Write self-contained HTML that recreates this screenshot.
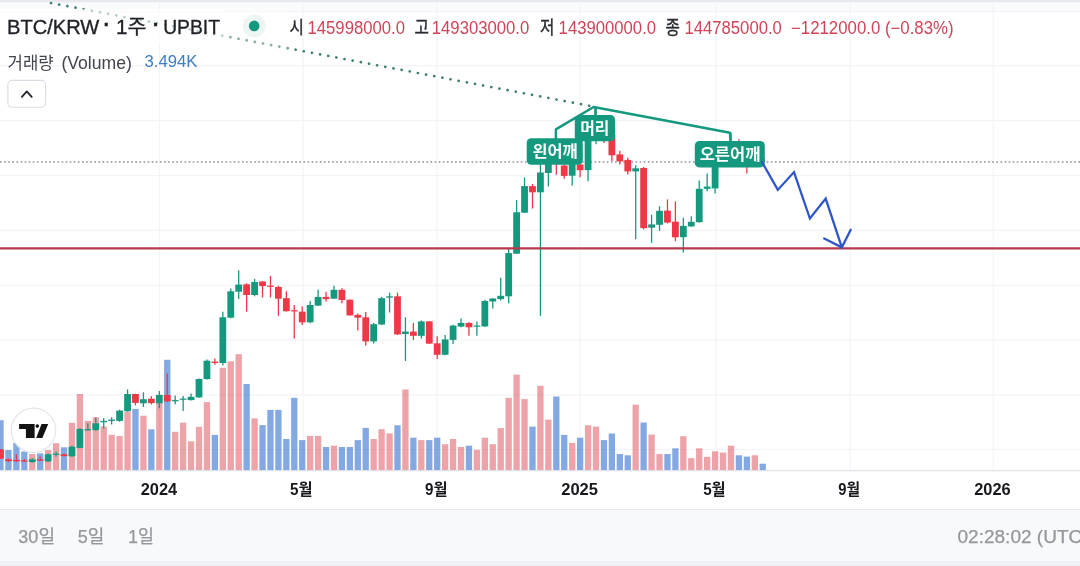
<!DOCTYPE html>
<html lang="ko"><head><meta charset="utf-8"><title>BTC/KRW 1주 UPBIT</title>
<style>html,body{margin:0;padding:0;background:#fff}body{width:1080px;height:566px;overflow:hidden}svg{display:block}text{font-family:"Liberation Sans","Noto Sans CJK KR",sans-serif}</style></head><body>
<svg width="1080" height="566" viewBox="0 0 1080 566">
<rect x="0" y="0" width="1080" height="566" fill="#ffffff"/>
<rect x="0" y="0" width="1080" height="11.5" fill="#fafbfc"/>
<rect x="0" y="0" width="1080" height="2.3" fill="#e7e9ee"/>
<g stroke="#f3f4f7" stroke-width="1.2" fill="none">
<line x1="0" y1="11.7" x2="1080" y2="11.7"/>
<line x1="0" y1="65.7" x2="1080" y2="65.7"/>
<line x1="0" y1="120.6" x2="1080" y2="120.6"/>
<line x1="0" y1="175.5" x2="1080" y2="175.5"/>
<line x1="0" y1="230.4" x2="1080" y2="230.4"/>
<line x1="0" y1="285.3" x2="1080" y2="285.3"/>
<line x1="0" y1="340.2" x2="1080" y2="340.2"/>
<line x1="0" y1="394.8" x2="1080" y2="394.8"/>
<line x1="0" y1="449.5" x2="1080" y2="449.5"/>
<line x1="159.5" y1="2.2" x2="159.5" y2="470.5"/>
<line x1="303" y1="2.2" x2="303" y2="470.5"/>
<line x1="437" y1="2.2" x2="437" y2="470.5"/>
<line x1="580" y1="2.2" x2="580" y2="470.5"/>
<line x1="716" y1="2.2" x2="716" y2="470.5"/>
<line x1="850" y1="2.2" x2="850" y2="470.5"/>
<line x1="993.3" y1="2.2" x2="993.3" y2="470.5"/>
</g>
<g>
<rect x="-2.65" y="420.2" width="6.3" height="50.0" fill="#0953c5" fill-opacity="0.5"/>
<rect x="5.29" y="450.0" width="6.3" height="20.2" fill="#0953c5" fill-opacity="0.5"/>
<rect x="13.23" y="443.0" width="6.3" height="27.2" fill="#0953c5" fill-opacity="0.5"/>
<rect x="21.17" y="451.5" width="6.3" height="18.7" fill="#0953c5" fill-opacity="0.5"/>
<rect x="29.11" y="454.0" width="6.3" height="16.2" fill="#dd4753" fill-opacity="0.5"/>
<rect x="37.05" y="453.4" width="6.3" height="16.8" fill="#0953c5" fill-opacity="0.5"/>
<rect x="44.99" y="450.0" width="6.3" height="20.2" fill="#dd4753" fill-opacity="0.5"/>
<rect x="52.93" y="443.2" width="6.3" height="27.0" fill="#dd4753" fill-opacity="0.5"/>
<rect x="60.87" y="447.3" width="6.3" height="22.9" fill="#0953c5" fill-opacity="0.5"/>
<rect x="68.81" y="422.8" width="6.3" height="47.4" fill="#dd4753" fill-opacity="0.5"/>
<rect x="76.75" y="394.0" width="6.3" height="76.2" fill="#dd4753" fill-opacity="0.5"/>
<rect x="84.69" y="421.0" width="6.3" height="49.2" fill="#dd4753" fill-opacity="0.5"/>
<rect x="92.63" y="417.2" width="6.3" height="53.0" fill="#dd4753" fill-opacity="0.5"/>
<rect x="100.57" y="426.5" width="6.3" height="43.7" fill="#dd4753" fill-opacity="0.5"/>
<rect x="108.51" y="434.8" width="6.3" height="35.4" fill="#dd4753" fill-opacity="0.5"/>
<rect x="116.45" y="436.1" width="6.3" height="34.1" fill="#dd4753" fill-opacity="0.5"/>
<rect x="124.39" y="411.6" width="6.3" height="58.6" fill="#dd4753" fill-opacity="0.5"/>
<rect x="132.33" y="408.9" width="6.3" height="61.3" fill="#0953c5" fill-opacity="0.5"/>
<rect x="140.27" y="415.7" width="6.3" height="54.5" fill="#dd4753" fill-opacity="0.5"/>
<rect x="148.21" y="429.3" width="6.3" height="40.9" fill="#0953c5" fill-opacity="0.5"/>
<rect x="156.15" y="403.1" width="6.3" height="67.1" fill="#dd4753" fill-opacity="0.5"/>
<rect x="164.09" y="359.8" width="6.3" height="110.4" fill="#0953c5" fill-opacity="0.5"/>
<rect x="172.03" y="431.8" width="6.3" height="38.4" fill="#dd4753" fill-opacity="0.5"/>
<rect x="179.97" y="422.6" width="6.3" height="47.6" fill="#dd4753" fill-opacity="0.5"/>
<rect x="187.91" y="441.3" width="6.3" height="28.9" fill="#dd4753" fill-opacity="0.5"/>
<rect x="195.85" y="426.8" width="6.3" height="43.4" fill="#dd4753" fill-opacity="0.5"/>
<rect x="203.79" y="402.1" width="6.3" height="68.1" fill="#dd4753" fill-opacity="0.5"/>
<rect x="211.73" y="434.9" width="6.3" height="35.3" fill="#0953c5" fill-opacity="0.5"/>
<rect x="219.67" y="367.8" width="6.3" height="102.4" fill="#dd4753" fill-opacity="0.5"/>
<rect x="227.61" y="361.3" width="6.3" height="108.9" fill="#dd4753" fill-opacity="0.5"/>
<rect x="235.55" y="354.2" width="6.3" height="116.0" fill="#dd4753" fill-opacity="0.5"/>
<rect x="243.49" y="384.0" width="6.3" height="86.2" fill="#0953c5" fill-opacity="0.5"/>
<rect x="251.43" y="418.4" width="6.3" height="51.8" fill="#dd4753" fill-opacity="0.5"/>
<rect x="259.37" y="425.1" width="6.3" height="45.1" fill="#0953c5" fill-opacity="0.5"/>
<rect x="267.31" y="409.9" width="6.3" height="60.3" fill="#0953c5" fill-opacity="0.5"/>
<rect x="275.25" y="409.9" width="6.3" height="60.3" fill="#0953c5" fill-opacity="0.5"/>
<rect x="283.19" y="439.0" width="6.3" height="31.2" fill="#0953c5" fill-opacity="0.5"/>
<rect x="291.13" y="397.8" width="6.3" height="72.4" fill="#0953c5" fill-opacity="0.5"/>
<rect x="299.07" y="440.1" width="6.3" height="30.1" fill="#0953c5" fill-opacity="0.5"/>
<rect x="307.01" y="435.9" width="6.3" height="34.3" fill="#dd4753" fill-opacity="0.5"/>
<rect x="314.95" y="435.9" width="6.3" height="34.3" fill="#dd4753" fill-opacity="0.5"/>
<rect x="322.89" y="447.0" width="6.3" height="23.2" fill="#0953c5" fill-opacity="0.5"/>
<rect x="330.83" y="445.7" width="6.3" height="24.5" fill="#dd4753" fill-opacity="0.5"/>
<rect x="338.77" y="447.0" width="6.3" height="23.2" fill="#0953c5" fill-opacity="0.5"/>
<rect x="346.71" y="447.0" width="6.3" height="23.2" fill="#0953c5" fill-opacity="0.5"/>
<rect x="354.65" y="440.1" width="6.3" height="30.1" fill="#0953c5" fill-opacity="0.5"/>
<rect x="362.59" y="427.9" width="6.3" height="42.3" fill="#0953c5" fill-opacity="0.5"/>
<rect x="370.53" y="439.0" width="6.3" height="31.2" fill="#dd4753" fill-opacity="0.5"/>
<rect x="378.47" y="429.2" width="6.3" height="41.0" fill="#dd4753" fill-opacity="0.5"/>
<rect x="386.41" y="433.4" width="6.3" height="36.8" fill="#dd4753" fill-opacity="0.5"/>
<rect x="394.35" y="425.3" width="6.3" height="44.9" fill="#0953c5" fill-opacity="0.5"/>
<rect x="402.29" y="389.5" width="6.3" height="80.7" fill="#dd4753" fill-opacity="0.5"/>
<rect x="410.23" y="437.7" width="6.3" height="32.5" fill="#0953c5" fill-opacity="0.5"/>
<rect x="418.17" y="440.1" width="6.3" height="30.1" fill="#dd4753" fill-opacity="0.5"/>
<rect x="426.11" y="440.1" width="6.3" height="30.1" fill="#0953c5" fill-opacity="0.5"/>
<rect x="434.05" y="437.7" width="6.3" height="32.5" fill="#0953c5" fill-opacity="0.5"/>
<rect x="441.99" y="444.2" width="6.3" height="26.0" fill="#dd4753" fill-opacity="0.5"/>
<rect x="449.93" y="439.0" width="6.3" height="31.2" fill="#dd4753" fill-opacity="0.5"/>
<rect x="457.87" y="447.0" width="6.3" height="23.2" fill="#dd4753" fill-opacity="0.5"/>
<rect x="465.81" y="445.7" width="6.3" height="24.5" fill="#0953c5" fill-opacity="0.5"/>
<rect x="473.75" y="449.8" width="6.3" height="20.4" fill="#dd4753" fill-opacity="0.5"/>
<rect x="481.69" y="437.7" width="6.3" height="32.5" fill="#dd4753" fill-opacity="0.5"/>
<rect x="489.63" y="444.2" width="6.3" height="26.0" fill="#dd4753" fill-opacity="0.5"/>
<rect x="497.57" y="428.1" width="6.3" height="42.1" fill="#dd4753" fill-opacity="0.5"/>
<rect x="505.51" y="397.8" width="6.3" height="72.4" fill="#dd4753" fill-opacity="0.5"/>
<rect x="513.45" y="374.6" width="6.3" height="95.6" fill="#dd4753" fill-opacity="0.5"/>
<rect x="521.39" y="399.1" width="6.3" height="71.1" fill="#dd4753" fill-opacity="0.5"/>
<rect x="529.33" y="426.6" width="6.3" height="43.6" fill="#0953c5" fill-opacity="0.5"/>
<rect x="537.27" y="385.8" width="6.3" height="84.4" fill="#dd4753" fill-opacity="0.5"/>
<rect x="545.21" y="419.7" width="6.3" height="50.5" fill="#dd4753" fill-opacity="0.5"/>
<rect x="553.15" y="396.5" width="6.3" height="73.7" fill="#0953c5" fill-opacity="0.5"/>
<rect x="561.09" y="434.9" width="6.3" height="35.3" fill="#0953c5" fill-opacity="0.5"/>
<rect x="569.03" y="442.9" width="6.3" height="27.3" fill="#dd4753" fill-opacity="0.5"/>
<rect x="576.97" y="437.7" width="6.3" height="32.5" fill="#0953c5" fill-opacity="0.5"/>
<rect x="584.91" y="425.3" width="6.3" height="44.9" fill="#dd4753" fill-opacity="0.5"/>
<rect x="592.85" y="426.6" width="6.3" height="43.6" fill="#dd4753" fill-opacity="0.5"/>
<rect x="600.79" y="440.1" width="6.3" height="30.1" fill="#0953c5" fill-opacity="0.5"/>
<rect x="608.73" y="433.5" width="6.3" height="36.7" fill="#0953c5" fill-opacity="0.5"/>
<rect x="616.67" y="454.0" width="6.3" height="16.2" fill="#0953c5" fill-opacity="0.5"/>
<rect x="624.61" y="455.3" width="6.3" height="14.9" fill="#0953c5" fill-opacity="0.5"/>
<rect x="632.55" y="404.7" width="6.3" height="65.5" fill="#dd4753" fill-opacity="0.5"/>
<rect x="640.49" y="422.5" width="6.3" height="47.7" fill="#0953c5" fill-opacity="0.5"/>
<rect x="648.43" y="434.6" width="6.3" height="35.6" fill="#dd4753" fill-opacity="0.5"/>
<rect x="656.37" y="454.0" width="6.3" height="16.2" fill="#dd4753" fill-opacity="0.5"/>
<rect x="664.31" y="454.0" width="6.3" height="16.2" fill="#0953c5" fill-opacity="0.5"/>
<rect x="672.25" y="448.3" width="6.3" height="21.9" fill="#0953c5" fill-opacity="0.5"/>
<rect x="680.19" y="436.2" width="6.3" height="34.0" fill="#dd4753" fill-opacity="0.5"/>
<rect x="688.13" y="458.1" width="6.3" height="12.1" fill="#dd4753" fill-opacity="0.5"/>
<rect x="696.07" y="448.3" width="6.3" height="21.9" fill="#dd4753" fill-opacity="0.5"/>
<rect x="704.01" y="456.8" width="6.3" height="13.4" fill="#dd4753" fill-opacity="0.5"/>
<rect x="711.95" y="451.3" width="6.3" height="18.9" fill="#dd4753" fill-opacity="0.5"/>
<rect x="719.89" y="452.6" width="6.3" height="17.6" fill="#dd4753" fill-opacity="0.5"/>
<rect x="727.83" y="445.7" width="6.3" height="24.5" fill="#dd4753" fill-opacity="0.5"/>
<rect x="735.77" y="455.3" width="6.3" height="14.9" fill="#0953c5" fill-opacity="0.5"/>
<rect x="743.71" y="456.6" width="6.3" height="13.6" fill="#0953c5" fill-opacity="0.5"/>
<rect x="751.65" y="455.3" width="6.3" height="14.9" fill="#dd4753" fill-opacity="0.5"/>
<rect x="759.59" y="463.7" width="6.3" height="6.5" fill="#0953c5" fill-opacity="0.5"/>
</g>
<line x1="51" y1="3" x2="593.7" y2="106.6" stroke="#437f73" stroke-width="2.7" stroke-dasharray="0.1 8.2" stroke-linecap="round" fill="none"/>
<line x1="0" y1="162" x2="1080" y2="162" stroke="#98949a" stroke-width="1.7" stroke-dasharray="1.7 2.4"/>
<g>
<line x1="0.50" y1="449.0" x2="0.50" y2="459.0" stroke="#ee3848" stroke-width="1.3"/>
<rect x="-2.90" y="449.4" width="6.8" height="9.2" fill="#ee3848"/>
<line x1="8.44" y1="458.5" x2="8.44" y2="462.0" stroke="#ee3848" stroke-width="1.3"/>
<rect x="5.04" y="459.3" width="6.8" height="1.8" fill="#ee3848"/>
<line x1="16.38" y1="454.3" x2="16.38" y2="462.0" stroke="#ee3848" stroke-width="1.3"/>
<rect x="12.98" y="460.0" width="6.8" height="1.2" fill="#ee3848"/>
<line x1="24.32" y1="459.0" x2="24.32" y2="462.0" stroke="#ee3848" stroke-width="1.3"/>
<rect x="20.92" y="460.4" width="6.8" height="1.2" fill="#ee3848"/>
<line x1="32.26" y1="458.3" x2="32.26" y2="462.8" stroke="#14997f" stroke-width="1.3"/>
<rect x="28.86" y="459.3" width="6.8" height="2.8" fill="#14997f"/>
<line x1="40.20" y1="456.5" x2="40.20" y2="461.0" stroke="#ee3848" stroke-width="1.3"/>
<rect x="36.80" y="459.3" width="6.8" height="1.4" fill="#ee3848"/>
<line x1="48.14" y1="453.6" x2="48.14" y2="462.1" stroke="#14997f" stroke-width="1.3"/>
<rect x="44.74" y="454.3" width="6.8" height="7.1" fill="#14997f"/>
<line x1="56.08" y1="451.5" x2="56.08" y2="456.5" stroke="#14997f" stroke-width="1.3"/>
<rect x="52.68" y="453.6" width="6.8" height="1.2" fill="#14997f"/>
<line x1="64.02" y1="453.6" x2="64.02" y2="456.7" stroke="#ee3848" stroke-width="1.3"/>
<rect x="60.62" y="454.3" width="6.8" height="1.7" fill="#ee3848"/>
<line x1="71.96" y1="445.6" x2="71.96" y2="456.8" stroke="#14997f" stroke-width="1.3"/>
<rect x="68.56" y="446.8" width="6.8" height="9.5" fill="#14997f"/>
<line x1="79.90" y1="428.0" x2="79.90" y2="448.3" stroke="#14997f" stroke-width="1.3"/>
<rect x="76.50" y="429.0" width="6.8" height="18.9" fill="#14997f"/>
<line x1="87.84" y1="423.3" x2="87.84" y2="430.7" stroke="#14997f" stroke-width="1.3"/>
<rect x="84.44" y="429.2" width="6.8" height="1.2" fill="#14997f"/>
<line x1="95.78" y1="417.5" x2="95.78" y2="430.7" stroke="#14997f" stroke-width="1.3"/>
<rect x="92.38" y="423.3" width="6.8" height="6.8" fill="#14997f"/>
<line x1="103.72" y1="418.1" x2="103.72" y2="428.6" stroke="#14997f" stroke-width="1.3"/>
<rect x="100.32" y="420.9" width="6.8" height="1.3" fill="#14997f"/>
<line x1="111.66" y1="417.2" x2="111.66" y2="424.6" stroke="#14997f" stroke-width="1.3"/>
<rect x="108.26" y="419.6" width="6.8" height="1.3" fill="#14997f"/>
<line x1="119.60" y1="409.7" x2="119.60" y2="421.8" stroke="#14997f" stroke-width="1.3"/>
<rect x="116.20" y="410.6" width="6.8" height="10.3" fill="#14997f"/>
<line x1="127.54" y1="389.4" x2="127.54" y2="411.6" stroke="#14997f" stroke-width="1.3"/>
<rect x="124.14" y="394.0" width="6.8" height="17.2" fill="#14997f"/>
<line x1="135.48" y1="393.7" x2="135.48" y2="405.5" stroke="#ee3848" stroke-width="1.3"/>
<rect x="132.08" y="394.0" width="6.8" height="8.9" fill="#ee3848"/>
<line x1="143.42" y1="392.3" x2="143.42" y2="407.0" stroke="#14997f" stroke-width="1.3"/>
<rect x="140.02" y="399.2" width="6.8" height="4.1" fill="#14997f"/>
<line x1="151.36" y1="396.2" x2="151.36" y2="404.4" stroke="#ee3848" stroke-width="1.3"/>
<rect x="147.96" y="398.7" width="6.8" height="4.4" fill="#ee3848"/>
<line x1="159.30" y1="390.9" x2="159.30" y2="408.2" stroke="#14997f" stroke-width="1.3"/>
<rect x="155.90" y="394.9" width="6.8" height="8.4" fill="#14997f"/>
<line x1="167.24" y1="373.6" x2="167.24" y2="401.8" stroke="#ee3848" stroke-width="1.3"/>
<rect x="163.84" y="395.0" width="6.8" height="6.4" fill="#ee3848"/>
<line x1="175.18" y1="395.6" x2="175.18" y2="404.2" stroke="#14997f" stroke-width="1.3"/>
<rect x="171.78" y="400.1" width="6.8" height="1.2" fill="#14997f"/>
<line x1="183.12" y1="396.1" x2="183.12" y2="411.0" stroke="#14997f" stroke-width="1.3"/>
<rect x="179.72" y="398.6" width="6.8" height="1.2" fill="#14997f"/>
<line x1="191.06" y1="393.6" x2="191.06" y2="400.5" stroke="#14997f" stroke-width="1.3"/>
<rect x="187.66" y="396.8" width="6.8" height="3.3" fill="#14997f"/>
<line x1="199.00" y1="378.4" x2="199.00" y2="397.8" stroke="#14997f" stroke-width="1.3"/>
<rect x="195.60" y="379.0" width="6.8" height="18.4" fill="#14997f"/>
<line x1="206.94" y1="359.5" x2="206.94" y2="379.5" stroke="#14997f" stroke-width="1.3"/>
<rect x="203.54" y="360.7" width="6.8" height="18.4" fill="#14997f"/>
<line x1="214.88" y1="358.4" x2="214.88" y2="364.8" stroke="#ee3848" stroke-width="1.3"/>
<rect x="211.48" y="361.6" width="6.8" height="1.4" fill="#ee3848"/>
<line x1="222.82" y1="311.7" x2="222.82" y2="365.5" stroke="#14997f" stroke-width="1.3"/>
<rect x="219.42" y="317.3" width="6.8" height="45.7" fill="#14997f"/>
<line x1="230.76" y1="288.5" x2="230.76" y2="318.2" stroke="#14997f" stroke-width="1.3"/>
<rect x="227.36" y="291.3" width="6.8" height="26.4" fill="#14997f"/>
<line x1="238.70" y1="270.3" x2="238.70" y2="299.1" stroke="#14997f" stroke-width="1.3"/>
<rect x="235.30" y="284.6" width="6.8" height="7.1" fill="#14997f"/>
<line x1="246.64" y1="283.3" x2="246.64" y2="311.7" stroke="#ee3848" stroke-width="1.3"/>
<rect x="243.24" y="284.3" width="6.8" height="10.7" fill="#ee3848"/>
<line x1="254.58" y1="279.0" x2="254.58" y2="296.3" stroke="#14997f" stroke-width="1.3"/>
<rect x="251.18" y="282.0" width="6.8" height="13.0" fill="#14997f"/>
<line x1="262.52" y1="281.2" x2="262.52" y2="297.6" stroke="#ee3848" stroke-width="1.3"/>
<rect x="259.12" y="281.5" width="6.8" height="4.6" fill="#ee3848"/>
<line x1="270.46" y1="275.9" x2="270.46" y2="297.6" stroke="#ee3848" stroke-width="1.3"/>
<rect x="267.06" y="285.6" width="6.8" height="1.2" fill="#ee3848"/>
<line x1="278.40" y1="285.7" x2="278.40" y2="315.8" stroke="#ee3848" stroke-width="1.3"/>
<rect x="275.00" y="287.0" width="6.8" height="11.7" fill="#ee3848"/>
<line x1="286.34" y1="291.3" x2="286.34" y2="311.7" stroke="#ee3848" stroke-width="1.3"/>
<rect x="282.94" y="298.2" width="6.8" height="13.0" fill="#ee3848"/>
<line x1="294.28" y1="305.0" x2="294.28" y2="338.6" stroke="#ee3848" stroke-width="1.3"/>
<rect x="290.88" y="310.2" width="6.8" height="1.2" fill="#ee3848"/>
<line x1="302.22" y1="306.5" x2="302.22" y2="325.0" stroke="#ee3848" stroke-width="1.3"/>
<rect x="298.82" y="311.7" width="6.8" height="10.6" fill="#ee3848"/>
<line x1="310.16" y1="301.0" x2="310.16" y2="323.2" stroke="#14997f" stroke-width="1.3"/>
<rect x="306.76" y="305.0" width="6.8" height="17.3" fill="#14997f"/>
<line x1="318.10" y1="289.8" x2="318.10" y2="306.0" stroke="#14997f" stroke-width="1.3"/>
<rect x="314.70" y="296.9" width="6.8" height="8.7" fill="#14997f"/>
<line x1="326.04" y1="291.7" x2="326.04" y2="301.5" stroke="#ee3848" stroke-width="1.3"/>
<rect x="322.64" y="296.9" width="6.8" height="2.2" fill="#ee3848"/>
<line x1="333.98" y1="285.7" x2="333.98" y2="299.0" stroke="#14997f" stroke-width="1.3"/>
<rect x="330.58" y="289.8" width="6.8" height="8.9" fill="#14997f"/>
<line x1="341.92" y1="288.3" x2="341.92" y2="303.2" stroke="#ee3848" stroke-width="1.3"/>
<rect x="338.52" y="289.8" width="6.8" height="10.2" fill="#ee3848"/>
<line x1="349.86" y1="299.4" x2="349.86" y2="315.8" stroke="#ee3848" stroke-width="1.3"/>
<rect x="346.46" y="299.7" width="6.8" height="15.7" fill="#ee3848"/>
<line x1="357.80" y1="313.6" x2="357.80" y2="330.6" stroke="#ee3848" stroke-width="1.3"/>
<rect x="354.40" y="314.9" width="6.8" height="2.8" fill="#ee3848"/>
<line x1="365.74" y1="312.1" x2="365.74" y2="345.5" stroke="#ee3848" stroke-width="1.3"/>
<rect x="362.34" y="317.3" width="6.8" height="24.1" fill="#ee3848"/>
<line x1="373.68" y1="322.9" x2="373.68" y2="343.6" stroke="#14997f" stroke-width="1.3"/>
<rect x="370.28" y="324.2" width="6.8" height="17.2" fill="#14997f"/>
<line x1="381.62" y1="296.9" x2="381.62" y2="325.1" stroke="#14997f" stroke-width="1.3"/>
<rect x="378.22" y="298.2" width="6.8" height="26.3" fill="#14997f"/>
<line x1="389.56" y1="292.6" x2="389.56" y2="312.5" stroke="#14997f" stroke-width="1.3"/>
<rect x="386.16" y="296.3" width="6.8" height="1.3" fill="#14997f"/>
<line x1="397.50" y1="292.6" x2="397.50" y2="334.9" stroke="#ee3848" stroke-width="1.3"/>
<rect x="394.10" y="296.3" width="6.8" height="38.1" fill="#ee3848"/>
<line x1="405.44" y1="317.3" x2="405.44" y2="360.9" stroke="#14997f" stroke-width="1.3"/>
<rect x="402.04" y="331.6" width="6.8" height="2.4" fill="#14997f"/>
<line x1="413.38" y1="322.9" x2="413.38" y2="339.9" stroke="#ee3848" stroke-width="1.3"/>
<rect x="409.98" y="331.6" width="6.8" height="4.2" fill="#ee3848"/>
<line x1="421.32" y1="320.4" x2="421.32" y2="338.6" stroke="#14997f" stroke-width="1.3"/>
<rect x="417.92" y="321.4" width="6.8" height="14.4" fill="#14997f"/>
<line x1="429.26" y1="321.0" x2="429.26" y2="344.0" stroke="#ee3848" stroke-width="1.3"/>
<rect x="425.86" y="321.4" width="6.8" height="22.2" fill="#ee3848"/>
<line x1="437.20" y1="336.2" x2="437.20" y2="359.0" stroke="#ee3848" stroke-width="1.3"/>
<rect x="433.80" y="343.3" width="6.8" height="11.5" fill="#ee3848"/>
<line x1="445.14" y1="334.9" x2="445.14" y2="355.3" stroke="#14997f" stroke-width="1.3"/>
<rect x="441.74" y="339.4" width="6.8" height="15.4" fill="#14997f"/>
<line x1="453.08" y1="324.7" x2="453.08" y2="344.0" stroke="#14997f" stroke-width="1.3"/>
<rect x="449.68" y="325.6" width="6.8" height="14.3" fill="#14997f"/>
<line x1="461.02" y1="318.6" x2="461.02" y2="327.3" stroke="#14997f" stroke-width="1.3"/>
<rect x="457.62" y="322.9" width="6.8" height="3.7" fill="#14997f"/>
<line x1="468.96" y1="322.3" x2="468.96" y2="335.7" stroke="#ee3848" stroke-width="1.3"/>
<rect x="465.56" y="322.9" width="6.8" height="4.4" fill="#ee3848"/>
<line x1="476.90" y1="321.4" x2="476.90" y2="335.7" stroke="#14997f" stroke-width="1.3"/>
<rect x="473.50" y="325.5" width="6.8" height="1.2" fill="#14997f"/>
<line x1="484.84" y1="299.7" x2="484.84" y2="326.9" stroke="#14997f" stroke-width="1.3"/>
<rect x="481.44" y="301.0" width="6.8" height="25.4" fill="#14997f"/>
<line x1="492.78" y1="298.2" x2="492.78" y2="308.4" stroke="#14997f" stroke-width="1.3"/>
<rect x="489.38" y="298.5" width="6.8" height="3.0" fill="#14997f"/>
<line x1="500.72" y1="277.8" x2="500.72" y2="300.6" stroke="#14997f" stroke-width="1.3"/>
<rect x="497.32" y="295.8" width="6.8" height="3.3" fill="#14997f"/>
<line x1="508.66" y1="248.5" x2="508.66" y2="303.2" stroke="#14997f" stroke-width="1.3"/>
<rect x="505.26" y="253.1" width="6.8" height="43.2" fill="#14997f"/>
<line x1="516.60" y1="199.9" x2="516.60" y2="254.0" stroke="#14997f" stroke-width="1.3"/>
<rect x="513.20" y="212.3" width="6.8" height="41.4" fill="#14997f"/>
<line x1="524.54" y1="177.6" x2="524.54" y2="213.0" stroke="#14997f" stroke-width="1.3"/>
<rect x="521.14" y="186.1" width="6.8" height="26.6" fill="#14997f"/>
<line x1="532.48" y1="184.0" x2="532.48" y2="208.6" stroke="#ee3848" stroke-width="1.3"/>
<rect x="529.08" y="186.1" width="6.8" height="6.2" fill="#ee3848"/>
<line x1="540.42" y1="162.0" x2="540.42" y2="315.8" stroke="#14997f" stroke-width="1.3"/>
<rect x="537.02" y="172.5" width="6.8" height="19.8" fill="#14997f"/>
<line x1="548.36" y1="160.0" x2="548.36" y2="186.5" stroke="#14997f" stroke-width="1.3"/>
<rect x="544.96" y="163.0" width="6.8" height="10.0" fill="#14997f"/>
<line x1="556.30" y1="131.0" x2="556.30" y2="174.8" stroke="#ee3848" stroke-width="1.3"/>
<rect x="552.90" y="162.5" width="6.8" height="1.5" fill="#ee3848"/>
<line x1="564.24" y1="160.0" x2="564.24" y2="178.7" stroke="#ee3848" stroke-width="1.3"/>
<rect x="560.84" y="165.5" width="6.8" height="10.4" fill="#ee3848"/>
<line x1="572.18" y1="155.0" x2="572.18" y2="185.6" stroke="#14997f" stroke-width="1.3"/>
<rect x="568.78" y="160.0" width="6.8" height="15.7" fill="#14997f"/>
<line x1="580.12" y1="164.4" x2="580.12" y2="177.3" stroke="#ee3848" stroke-width="1.3"/>
<rect x="576.72" y="164.4" width="6.8" height="5.8" fill="#ee3848"/>
<line x1="588.06" y1="135.0" x2="588.06" y2="181.3" stroke="#14997f" stroke-width="1.3"/>
<rect x="584.66" y="140.0" width="6.8" height="30.1" fill="#14997f"/>
<line x1="596.00" y1="108.0" x2="596.00" y2="144.2" stroke="#14997f" stroke-width="1.3"/>
<rect x="592.60" y="128.0" width="6.8" height="13.0" fill="#14997f"/>
<line x1="603.94" y1="125.0" x2="603.94" y2="142.9" stroke="#ee3848" stroke-width="1.3"/>
<rect x="600.54" y="130.0" width="6.8" height="10.0" fill="#ee3848"/>
<line x1="611.88" y1="130.0" x2="611.88" y2="160.9" stroke="#ee3848" stroke-width="1.3"/>
<rect x="608.48" y="135.0" width="6.8" height="20.3" fill="#ee3848"/>
<line x1="619.82" y1="150.7" x2="619.82" y2="164.6" stroke="#ee3848" stroke-width="1.3"/>
<rect x="616.42" y="154.4" width="6.8" height="7.0" fill="#ee3848"/>
<line x1="627.76" y1="157.7" x2="627.76" y2="174.4" stroke="#ee3848" stroke-width="1.3"/>
<rect x="624.36" y="159.9" width="6.8" height="11.5" fill="#ee3848"/>
<line x1="635.70" y1="165.2" x2="635.70" y2="239.2" stroke="#14997f" stroke-width="1.3"/>
<rect x="632.30" y="168.3" width="6.8" height="3.1" fill="#14997f"/>
<line x1="643.64" y1="167.0" x2="643.64" y2="229.4" stroke="#ee3848" stroke-width="1.3"/>
<rect x="640.24" y="168.0" width="6.8" height="60.1" fill="#ee3848"/>
<line x1="651.58" y1="214.7" x2="651.58" y2="242.9" stroke="#14997f" stroke-width="1.3"/>
<rect x="648.18" y="224.4" width="6.8" height="3.3" fill="#14997f"/>
<line x1="659.52" y1="206.2" x2="659.52" y2="230.9" stroke="#14997f" stroke-width="1.3"/>
<rect x="656.12" y="210.8" width="6.8" height="14.0" fill="#14997f"/>
<line x1="667.46" y1="199.4" x2="667.46" y2="223.5" stroke="#ee3848" stroke-width="1.3"/>
<rect x="664.06" y="210.6" width="6.8" height="12.0" fill="#ee3848"/>
<line x1="675.40" y1="201.3" x2="675.40" y2="241.2" stroke="#ee3848" stroke-width="1.3"/>
<rect x="672.00" y="221.7" width="6.8" height="15.6" fill="#ee3848"/>
<line x1="683.34" y1="217.7" x2="683.34" y2="252.4" stroke="#14997f" stroke-width="1.3"/>
<rect x="679.94" y="225.9" width="6.8" height="11.3" fill="#14997f"/>
<line x1="691.28" y1="216.2" x2="691.28" y2="226.8" stroke="#14997f" stroke-width="1.3"/>
<rect x="687.88" y="221.8" width="6.8" height="4.6" fill="#14997f"/>
<line x1="699.22" y1="180.6" x2="699.22" y2="222.5" stroke="#14997f" stroke-width="1.3"/>
<rect x="695.82" y="188.8" width="6.8" height="33.4" fill="#14997f"/>
<line x1="707.16" y1="173.6" x2="707.16" y2="191.2" stroke="#14997f" stroke-width="1.3"/>
<rect x="703.76" y="186.6" width="6.8" height="2.2" fill="#14997f"/>
<line x1="715.10" y1="158.0" x2="715.10" y2="193.6" stroke="#14997f" stroke-width="1.3"/>
<rect x="711.70" y="161.4" width="6.8" height="27.0" fill="#14997f"/>
<line x1="723.04" y1="148.0" x2="723.04" y2="165.0" stroke="#14997f" stroke-width="1.3"/>
<rect x="719.64" y="152.5" width="6.8" height="8.9" fill="#14997f"/>
<line x1="730.98" y1="132.5" x2="730.98" y2="155.0" stroke="#14997f" stroke-width="1.3"/>
<rect x="727.58" y="142.0" width="6.8" height="10.5" fill="#14997f"/>
<line x1="738.92" y1="139.2" x2="738.92" y2="160.0" stroke="#ee3848" stroke-width="1.3"/>
<rect x="735.52" y="142.0" width="6.8" height="15.0" fill="#ee3848"/>
<line x1="746.86" y1="150.0" x2="746.86" y2="173.6" stroke="#ee3848" stroke-width="1.3"/>
<rect x="743.46" y="157.0" width="6.8" height="1.5" fill="#ee3848"/>
<line x1="754.80" y1="145.0" x2="754.80" y2="163.0" stroke="#14997f" stroke-width="1.3"/>
<rect x="751.40" y="157.0" width="6.8" height="1.4" fill="#14997f"/>
<line x1="761.54" y1="148.6" x2="761.54" y2="164.6" stroke="#ee3848" stroke-width="1.3"/>
<rect x="758.14" y="158.4" width="6.8" height="3.6" fill="#ee3848"/>
</g>
<line x1="0" y1="248.4" x2="1080" y2="248.4" stroke="#b63a4c" stroke-width="2.4"/>
<g stroke="#14997f" stroke-width="2.5" fill="none" stroke-linejoin="round" stroke-linecap="round">
<polyline points="555.9,139 555.9,129.4 593.6,107 730,132.8 730.6,142"/>
<line x1="595.4" y1="108" x2="595.4" y2="116"/>
</g>
<rect x="526.7" y="138.2" width="56.1" height="26.6" rx="4.5" ry="4.5" fill="#14997f"/>
<text x="555.0" y="157.2" font-size="15.6" font-weight="700" fill="#ffffff" text-anchor="middle" textLength="45.2" lengthAdjust="spacingAndGlyphs">왼어깨</text>
<rect x="574.8" y="115.1" width="40.3" height="26.1" rx="4.5" ry="4.5" fill="#14997f"/>
<text x="594.8" y="134.2" font-size="15.6" font-weight="700" fill="#ffffff" text-anchor="middle" textLength="29.2" lengthAdjust="spacingAndGlyphs">머리</text>
<rect x="694.8" y="140.9" width="70.0" height="26.5" rx="4.5" ry="4.5" fill="#14997f"/>
<text x="730.0" y="160.1" font-size="15.6" font-weight="700" fill="#ffffff" text-anchor="middle" textLength="60.6" lengthAdjust="spacingAndGlyphs">오른어깨</text>
<g stroke="#2f55c8" stroke-width="2.3" fill="none" stroke-linejoin="miter" stroke-linecap="round">
<polyline points="762,162 777.8,189.9 794,172.1 809.9,218.5 825.7,198.6 841.8,247.4"/>
<polyline points="824.2,238.5 841.8,247.4 850.7,229.8"/>
</g>
<circle cx="33.5" cy="430.3" r="22.2" fill="#ffffff" stroke="#e3e5ea" stroke-width="1.2"/>
<g fill="#131313">
<polygon points="19.1,424 34.6,424 34.6,438.1 25.9,438.1 25.9,428.9 19.1,428.9"/>
<circle cx="37.3" cy="426.1" r="1.8"/>
<polygon points="41.5,424 48.2,424 42.4,438.1 36.2,438.1"/>
</g>
<rect x="0" y="9" width="224" height="34" fill="#ffffff" fill-opacity="0.62"/>
<rect x="224" y="9" width="64" height="40" fill="#ffffff" fill-opacity="0.35"/>
<g font-size="20" fill="#1f2126" stroke="#1f2126" stroke-width="0.35">
<text x="7.0" y="33.6" textLength="92.3" lengthAdjust="spacingAndGlyphs">BTC/KRW</text>
<text x="106.9" y="30.6" text-anchor="middle" font-weight="700">·</text>
<text x="116" y="33.6" textLength="30.4" lengthAdjust="spacingAndGlyphs">1주</text>
<text x="156.1" y="30.6" text-anchor="middle" font-weight="700">·</text>
<text x="163.2" y="33.6" textLength="56.8" lengthAdjust="spacingAndGlyphs">UPBIT</text>
</g>
<circle cx="254.2" cy="25.9" r="11.5" fill="#eef6f4"/>
<circle cx="254.2" cy="25.9" r="5.3" fill="#14997f"/>
<text x="289.5" y="34.4" font-size="18" fill="#2a2c33" stroke="#2a2c33" stroke-width="0.4" textLength="14.4" lengthAdjust="spacingAndGlyphs">시</text>
<text x="414.5" y="34.4" font-size="18" fill="#2a2c33" stroke="#2a2c33" stroke-width="0.4" textLength="14.4" lengthAdjust="spacingAndGlyphs">고</text>
<text x="540" y="34.4" font-size="18" fill="#2a2c33" stroke="#2a2c33" stroke-width="0.4" textLength="14.4" lengthAdjust="spacingAndGlyphs">저</text>
<text x="665.5" y="34.4" font-size="18" fill="#2a2c33" stroke="#2a2c33" stroke-width="0.4" textLength="14.4" lengthAdjust="spacingAndGlyphs">종</text>
<text x="307.5" y="33.8" font-size="17.5" fill="#cf4459" textLength="97.5" lengthAdjust="spacingAndGlyphs">145998000.0</text>
<text x="431.8" y="33.8" font-size="17.5" fill="#cf4459" textLength="97.5" lengthAdjust="spacingAndGlyphs">149303000.0</text>
<text x="558.6" y="33.8" font-size="17.5" fill="#cf4459" textLength="97.5" lengthAdjust="spacingAndGlyphs">143900000.0</text>
<text x="684.4" y="33.8" font-size="17.5" fill="#cf4459" textLength="97.5" lengthAdjust="spacingAndGlyphs">144785000.0</text>
<text x="791" y="33.8" font-size="17.5" fill="#cf4459" textLength="162.6" lengthAdjust="spacingAndGlyphs">−1212000.0 (−0.83%)</text>
<text x="7.5" y="68.6" font-size="17.5" fill="#42454d" textLength="46.2" lengthAdjust="spacingAndGlyphs">거래량</text>
<text x="61.4" y="68.6" font-size="17.5" fill="#42454d" textLength="70.6" lengthAdjust="spacingAndGlyphs">(Volume)</text>
<text x="144.5" y="67.2" font-size="16" fill="#3c7ec4" textLength="53" lengthAdjust="spacingAndGlyphs">3.494K</text>
<rect x="7.9" y="80.4" width="37.6" height="26.8" rx="4" ry="4" fill="#ffffff" stroke="#d9dce2" stroke-width="1.1"/>
<polyline points="21.9,96.8 26.8,91.4 31.7,96.8" fill="none" stroke="#22252b" stroke-width="1.8" stroke-linecap="round" stroke-linejoin="round"/>
<rect x="0" y="471" width="1080" height="39" fill="#ffffff"/>
<line x1="0" y1="470.6" x2="1080" y2="470.6" stroke="#dfe2e7" stroke-width="1.2"/>
<line x1="0" y1="509.6" x2="1080" y2="509.6" stroke="#e6e8ed" stroke-width="1.3"/>
<text x="158.9" y="495" font-size="16.2" font-weight="700" fill="#17181c" text-anchor="middle" textLength="36.4" lengthAdjust="spacingAndGlyphs">2024</text>
<text x="301.3" y="495" font-size="16.2" font-weight="700" fill="#17181c" text-anchor="middle" textLength="22.5" lengthAdjust="spacingAndGlyphs">5월</text>
<text x="436.3" y="495" font-size="16.2" font-weight="700" fill="#17181c" text-anchor="middle" textLength="22.5" lengthAdjust="spacingAndGlyphs">9월</text>
<text x="579.6" y="495" font-size="16.2" font-weight="700" fill="#17181c" text-anchor="middle" textLength="36.8" lengthAdjust="spacingAndGlyphs">2025</text>
<text x="714.4" y="495" font-size="16.2" font-weight="700" fill="#17181c" text-anchor="middle" textLength="22.5" lengthAdjust="spacingAndGlyphs">5월</text>
<text x="849.1" y="495" font-size="16.2" font-weight="700" fill="#17181c" text-anchor="middle" textLength="21.8" lengthAdjust="spacingAndGlyphs">9월</text>
<text x="992.5" y="495" font-size="16.2" font-weight="700" fill="#17181c" text-anchor="middle" textLength="36.5" lengthAdjust="spacingAndGlyphs">2026</text>
<rect x="0" y="510.3" width="1080" height="51" fill="#f8f9fb"/>
<rect x="0" y="561" width="1080" height="5" fill="#eef0f4"/>
<text x="18.3" y="542.6" font-size="18" fill="#95979c" stroke="#95979c" stroke-width="0.25" textLength="36.7" lengthAdjust="spacingAndGlyphs">30일</text>
<text x="77.7" y="542.6" font-size="18" fill="#95979c" stroke="#95979c" stroke-width="0.25" textLength="26.6" lengthAdjust="spacingAndGlyphs">5일</text>
<text x="128.3" y="542.6" font-size="18" fill="#95979c" stroke="#95979c" stroke-width="0.25" textLength="25.6" lengthAdjust="spacingAndGlyphs">1일</text>
<text x="957.5" y="542.6" font-size="18" fill="#95979c" stroke="#95979c" stroke-width="0.25" textLength="152.8" lengthAdjust="spacingAndGlyphs">02:28:02 (UTC+9)</text>
</svg></body></html>
